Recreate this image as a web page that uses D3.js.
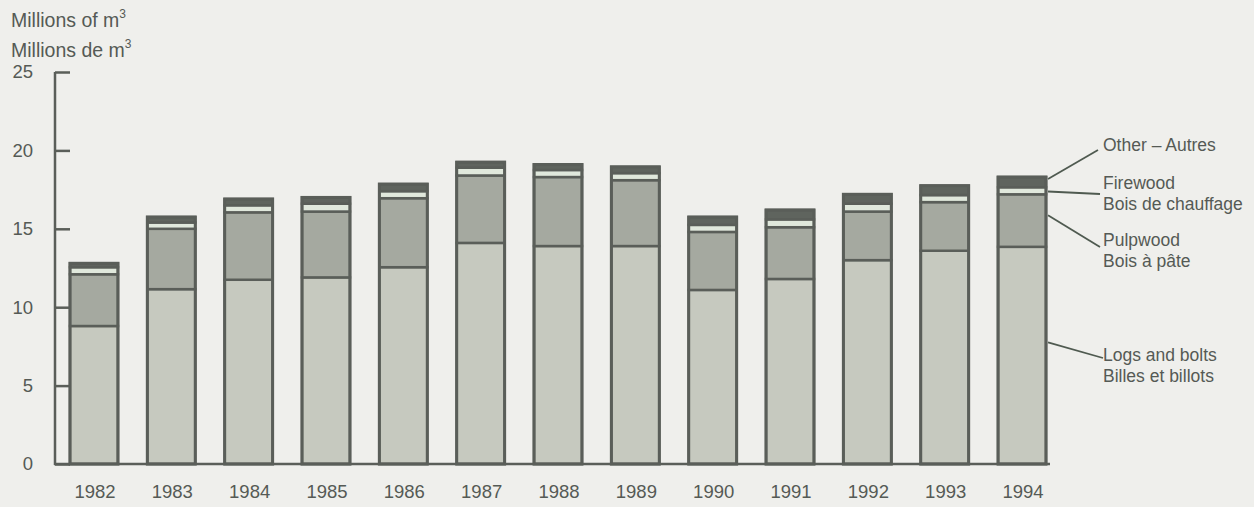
<!DOCTYPE html>
<html>
<head>
<meta charset="utf-8">
<script src="https://cdn.jsdelivr.net/npm/d3@7"></script>
<style>
  body { margin: 0; background: #efefec; }
  text { font-family: "Liberation Sans", Arial, sans-serif; fill: #555a55; }
</style>
</head>
<body>
<div id="chart"></div>
<script>
"use strict";

// chart values, millions of m3
var years = ["1982", "1983", "1984", "1985", "1986", "1987", "1988", "1989", "1990", "1991", "1992", "1993", "1994"];
var logs = [8.8, 11.15, 11.75, 11.9, 12.55, 14.1, 13.9, 13.9, 11.1, 11.8, 13.0, 13.6, 13.85];
var pulpwood = [3.3, 3.85, 4.3, 4.2, 4.4, 4.3, 4.4, 4.2, 3.7, 3.3, 3.1, 3.1, 3.35];
var firewood = [0.45, 0.4, 0.45, 0.5, 0.45, 0.5, 0.45, 0.45, 0.45, 0.5, 0.5, 0.45, 0.45];
var other = [0.25, 0.35, 0.4, 0.4, 0.45, 0.35, 0.35, 0.4, 0.5, 0.6, 0.6, 0.6, 0.65];
var yTicks = [0, 5, 10, 15, 20, 25];

var keys = ["logs", "pulpwood", "firewood", "other"];
var fills = { logs: "#c6c9bf", pulpwood: "#a5a9a0", firewood: "#e0e8dc", other: "#5f645e" };

var width = 1254, height = 507;

// build rows for the stack
var rows = years.map(function (y, i) {
  return { year: y, logs: logs[i], pulpwood: pulpwood[i], firewood: firewood[i], other: other[i] };
});
function total(d) { return d.logs + d.pulpwood + d.firewood + d.other; }

var x = d3.scaleBand().domain(years).range([55.3, 1060.7]).paddingInner(0.38).paddingOuter(0.19);
var y = d3.scaleLinear().domain([0, 25]).range([464, 72]);

var svg = d3.select("#chart").append("svg").attr("width", width).attr("height", height);

// unit titles
svg.append("text").attr("x", 11).attr("y", 27).style("font-size", "19.5px").text("Millions of m")
  .append("tspan").attr("dy", -9).style("font-size", "12px").text("3");
svg.append("text").attr("x", 11).attr("y", 57).style("font-size", "19.5px").text("Millions de m")
  .append("tspan").attr("dy", -9).style("font-size", "12px").text("3");

// stacked bars
var series = d3.stack().keys(keys)(rows);

svg.append("g").selectAll("g").data(series).enter().append("g")
  .attr("fill", function (d) { return fills[d.key]; })
  .selectAll("rect").data(function (d) { return d; }).enter().append("rect")
  .attr("x", function (d) { return x(d.data.year); })
  .attr("width", x.bandwidth())
  .attr("y", function (d) { return y(d[1]); })
  .attr("height", function (d) { return y(d[0]) - y(d[1]); })
  .attr("stroke", "#5a5e59")
  .attr("stroke-width", 2.5);

// bar outline
svg.append("g").selectAll("rect").data(rows).enter().append("rect")
  .attr("x", function (d) { return x(d.year); })
  .attr("width", x.bandwidth())
  .attr("y", function (d) { return y(total(d)); })
  .attr("height", function (d) { return y(0) - y(total(d)); })
  .attr("fill", "none")
  .attr("stroke", "#5a5e59")
  .attr("stroke-width", 3);

// y axis, ticks point inward
var yAxis = d3.axisLeft(y).tickValues(yTicks).tickSize(-15).tickPadding(22);
var gy = svg.append("g").attr("transform", "translate(55,0)").call(yAxis);
gy.select(".domain").remove();
gy.selectAll(".tick line").attr("stroke", "#5a5e59").attr("stroke-width", 2.5);
gy.selectAll(".tick text").style("font-size", "18.5px").style("font-family", "Liberation Sans, Arial, sans-serif").attr("fill", "#555a55");

svg.append("line").attr("x1", 55).attr("x2", 55).attr("y1", y(25)).attr("y2", y(0) + 1)
  .attr("stroke", "#5a5e59").attr("stroke-width", 2.5);
svg.append("line").attr("x1", 54).attr("x2", 1050).attr("y1", y(0)).attr("y2", y(0))
  .attr("stroke", "#5a5e59").attr("stroke-width", 2.5);

// x axis labels
var xAxis = d3.axisBottom(x).tickSize(0).tickPadding(21);
var gx = svg.append("g").attr("transform", "translate(1," + y(0) + ")").call(xAxis);
gx.select(".domain").remove();
gx.selectAll(".tick text").style("font-size", "18.5px").style("font-family", "Liberation Sans, Arial, sans-serif").attr("fill", "#555a55");

// callouts for the last bar
var last = rows[rows.length - 1];
var bx = x(last.year) + x.bandwidth() + 2;
var callouts = [
  { lines: ["Other \u2013 Autres"], y0: y(total(last)) + 2, x1: 1098, y1: 150, ty: 151 },
  { lines: ["Firewood", "Bois de chauffage"], y0: y(last.logs + last.pulpwood + last.firewood * 0.4), x1: 1100, y1: 194, ty: 189 },
  { lines: ["Pulpwood", "Bois \u00e0 p\u00e2te"], y0: y(last.logs + last.pulpwood * 0.6), x1: 1100, y1: 247, ty: 246 },
  { lines: ["Logs and bolts", "Billes et billots"], y0: y(last.logs * 0.56), x1: 1103, y1: 358, ty: 361 }
];

var gc = svg.append("g");
callouts.forEach(function (c) {
  gc.append("line").attr("x1", bx).attr("y1", c.y0).attr("x2", c.x1).attr("y2", c.y1)
    .attr("stroke", "#4f5a50").attr("stroke-width", 1.8);
  c.lines.forEach(function (t, i) {
    gc.append("text").attr("x", 1103).attr("y", c.ty + i * 21).style("font-size", "17.5px").text(t);
  });
});
</script>
</body>
</html>
